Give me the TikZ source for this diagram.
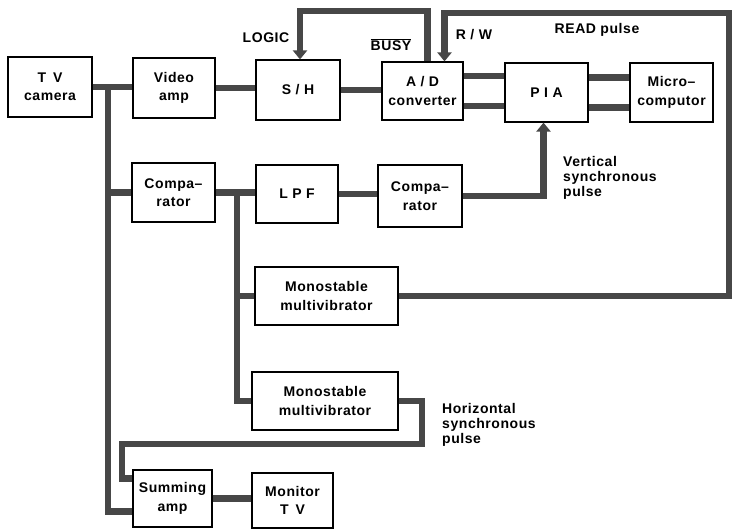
\documentclass[tikz,border=0pt]{standalone}
\usepackage{fontspec}
\setmainfont{Liberation Sans}[LetterSpace=4.0]
\usetikzlibrary{arrows.meta}
\begin{document}
\begin{tikzpicture}[x=1pt,y=-1pt,
  box/.style={draw=black,line width=1.2pt,align=center,inner sep=0pt,
    font=\fontsize{14}{18.5}\selectfont\bfseries},
  lbl/.style={align=left,inner sep=0pt,font=\fontsize{14}{15}\selectfont\bfseries},
  wire/.style={draw=black!72,line width=6.5pt},
  wirearrow/.style={wire,-{Triangle[length=9pt,width=14pt]}}]
\useasboundingbox (0,0) rectangle (733,530);
% boxes
\node[box,minimum width=84pt,minimum height=60pt] (cam) at (50,87) {T\,\,\,V\\camera};
\node[box,minimum width=82pt,minimum height=60pt] (vamp) at (174,88) {Video\\amp};
\node[box,minimum width=84pt,minimum height=60pt] (sh) at (298,90) {S / H};
\node[box,minimum width=81pt,minimum height=58pt] (adc) at (422.5,91) {A / D\\converter};
\node[box,minimum width=83pt,minimum height=59pt] (pia) at (546.5,92.5) {P I A};
\node[box,minimum width=83pt,minimum height=59pt] (mc) at (671.5,92.5) {Micro--\\computor};
\node[box,minimum width=83pt,minimum height=59pt] (comp1) at (173.5,192.5) {Compa--\\rator};
\node[box,minimum width=82pt,minimum height=58pt] (lpf) at (297,194) {L P F};
\node[box,minimum width=84pt,minimum height=62pt] (comp2) at (420,196) {Compa--\\rator};
\node[box,minimum width=143pt,minimum height=58pt] (mono1) at (326.5,296) {Monostable\\multivibrator};
\node[box,minimum width=146pt,minimum height=58pt] (mono2) at (325,401) {Monostable\\multivibrator};
\node[box,minimum width=79pt,minimum height=57pt] (sum) at (172.5,498.5) {Summing\\amp};
\node[box,minimum width=81pt,minimum height=55pt] (mon) at (292.5,500.5) {Monitor\\T\,\,\,V};
% junction / corner coordinates
\coordinate (j1) at (108,87);
\coordinate (j2) at (237,193);
\coordinate (t1) at (300,11);
\coordinate (t2) at (729,13);
\coordinate (c1) at (422,444);
\coordinate (c2) at (122,444);
% wires
\draw[wire] (cam.east) -- (cam.east -| vamp.west);
\draw[wire] (j1) |- ([yshift=-13pt]sum.west);
\draw[wire] (comp1.west -| j1) -- (comp1.west);
\draw[wire] (vamp.east) -- (vamp.east -| sh.west);
\draw[wire] (sh.east) -- (sh.east -| adc.west);
\draw[wire] ([yshift=15pt]adc.east) -- ([yshift=15pt]adc.east -| pia.west);
\draw[wire] ([yshift=-15pt]adc.east) -- ([yshift=-15pt]adc.east -| pia.west);
\draw[wire] ([yshift=15pt]pia.east) -- ([yshift=15pt]pia.east -| mc.west);
\draw[wire] ([yshift=-15pt]pia.east) -- ([yshift=-15pt]pia.east -| mc.west);
\draw[wire] (comp1.east) -- (comp1.east -| lpf.west);
\draw[wire] (j2) |- (mono2.west);
\draw[wire] (j2 |- mono1.west) -- (mono1.west);
\draw[wire] (lpf.east) -- (lpf.east -| comp2.west);
\draw[wirearrow] (comp2.east) -| ([xshift=-3pt]pia.south);
\draw[wirearrow] ([xshift=5pt]adc.north) |- (t1) -- (t1 |- sh.north);
\draw[wirearrow] (mono1.east) -| (t2) -| ([xshift=22pt]adc.north);
\draw[wire] (mono2.east) -| (c1) -- (c2) |- ([yshift=20pt]sum.west);
\draw[wire] (sum.east) -- (sum.east -| mon.west);
% labels
\node[lbl] (logic) at (266,38) {LOGIC};
\node[lbl] (busy) at (391,45) {$\overline{\hbox{BUSY}}$};
\node[lbl] (rw) at (474,35) {R / W};
\node[lbl] (read) at (597,30) {READ pulse};
\node[lbl,anchor=north west] (vsp) at (563,156) {Vertical\\synchronous\\pulse};
\node[lbl,anchor=north west] (hsp) at (442,403) {Horizontal\\synchronous\\pulse};
\end{tikzpicture}
\end{document}
